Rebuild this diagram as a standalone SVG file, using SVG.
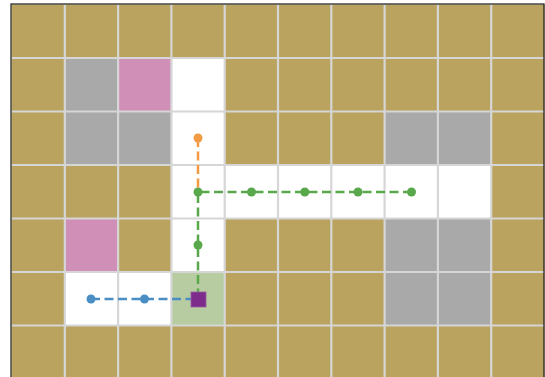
<svg xmlns="http://www.w3.org/2000/svg" width="545" height="377" viewBox="0 0 545 377">
<style>
.t{fill:#b9a35e}.g{fill:#a9a9a9}.p{fill:#d08fb6}.w{fill:#ffffff}.lg{fill:#b7cca1}
.grid line{stroke:#d6d6d6;stroke-width:2.2}
.dash{fill:none;stroke-width:2.5;stroke-dasharray:9 4.5}
</style>
<rect width="545" height="377" fill="#ffffff"/>
<g id="cells">
<rect class="t" x="11.5" y="4.5" width="533" height="374"/>
<rect class="g" x="64.8" y="58" width="53.3" height="107"/>
<rect class="g" x="118.1" y="111.5" width="53.3" height="53.5"/>
<rect class="p" x="118.1" y="58" width="53.3" height="53.5"/>
<rect class="w" x="171.4" y="58" width="53.3" height="214"/>
<rect class="w" x="224.7" y="165" width="266.5" height="53.5"/>
<rect class="g" x="384.6" y="111.5" width="106.6" height="53.5"/>
<rect class="g" x="384.6" y="218.5" width="106.6" height="107"/>
<rect class="p" x="64.8" y="218.5" width="53.3" height="53.5"/>
<rect class="w" x="64.8" y="272" width="106.6" height="53.5"/>
<rect class="lg" x="171.4" y="272" width="53.3" height="53.5"/>
</g>
<g class="grid" id="grid">
<line x1="64.8" y1="4" x2="64.8" y2="377"/>
<line x1="118.1" y1="4" x2="118.1" y2="377"/>
<line x1="171.4" y1="4" x2="171.4" y2="377"/>
<line x1="224.7" y1="4" x2="224.7" y2="377"/>
<line x1="278" y1="4" x2="278" y2="377"/>
<line x1="331.3" y1="4" x2="331.3" y2="377"/>
<line x1="384.6" y1="4" x2="384.6" y2="377"/>
<line x1="437.9" y1="4" x2="437.9" y2="377"/>
<line x1="491.2" y1="4" x2="491.2" y2="377"/>
<line x1="11" y1="58" x2="544" y2="58"/>
<line x1="11" y1="111.5" x2="544" y2="111.5"/>
<line x1="11" y1="165" x2="544" y2="165"/>
<line x1="11" y1="218.5" x2="544" y2="218.5"/>
<line x1="11" y1="272" x2="544" y2="272"/>
<line x1="11" y1="325.5" x2="544" y2="325.5"/>
</g>
<rect id="frame" x="11" y="4" width="533" height="380" fill="none" stroke="#1a1a1a" stroke-width="1.2"/>
<g id="connectors">
<path class="dash" stroke="#f39a45" d="M198,138 V192"/>
<path class="dash" stroke="#5aa84c" d="M412,192 H198 V299"/>
<path class="dash" stroke="#4a8ec4" d="M91,299 H198"/>
</g>
<g id="dots">
<circle cx="198" cy="138" r="4.5" fill="#f39a45"/>
<g fill="#5aa84c">
<circle cx="198" cy="192" r="4.5"/>
<circle cx="251.5" cy="192" r="4.5"/>
<circle cx="304.8" cy="192" r="4.5"/>
<circle cx="358" cy="192" r="4.5"/>
<circle cx="411.5" cy="192" r="4.5"/>
<circle cx="198" cy="245" r="4.5"/>
</g>
<g fill="#4a8ec4">
<circle cx="91" cy="299" r="4.5"/>
<circle cx="144.5" cy="299" r="4.5"/>
</g>
</g>
<g id="goal">
<rect x="191" y="292" width="15" height="15" fill="#7d2c8b" stroke="#9a5aa5" stroke-width="0.8"/>
</g>
</svg>
